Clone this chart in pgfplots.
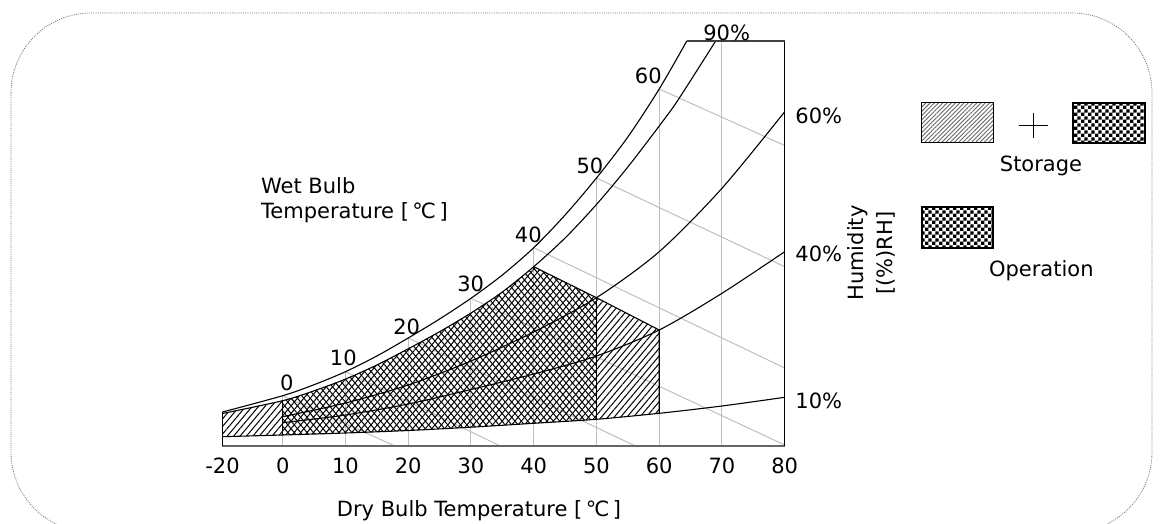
\documentclass[border=0pt]{standalone}
\usepackage{fontspec}
\setmainfont{DejaVu Sans}
\usepackage{pgfplots}
\pgfplotsset{compat=1.18}
\usetikzlibrary{patterns,patterns.meta}
\pgfdeclarepatternformonly{finechecker}{\pgfqpoint{0pt}{0pt}}{\pgfqpoint{3.4pt}{3.4pt}}{\pgfqpoint{3.4pt}{3.4pt}}{%
  \pgfpathrectangle{\pgfqpoint{0pt}{0pt}}{\pgfqpoint{1.7pt}{1.7pt}}%
  \pgfpathrectangle{\pgfqpoint{1.7pt}{1.7pt}}{\pgfqpoint{1.7pt}{1.7pt}}%
  \pgfusepath{fill}}
\pgfplotsset{
  grayline/.style={color=black!25, line width=0.5pt, forget plot},
  curve/.style={black, line width=0.55pt, smooth, forget plot},
  edge/.style={black, line width=0.55pt, forget plot},
}
\begin{document}
\begin{tikzpicture}[font=\fontsize{10.5}{12.6}\selectfont]
\begin{axis}[
  at={(0,0)}, anchor=south west,
  scale only axis, width=281.1pt, height=202.5pt,
  xmin=-9.6, xmax=80, ymin=0, ymax=405,
  axis line style={draw=none},
  xtick={-9.6,0,10,20,30,40,50,60,70,80},
  xticklabels={-20,0,10,20,30,40,50,60,70,80},
  ytick=\empty,
  major tick length=0pt,
  xticklabel style={anchor=base, yshift=-13.75pt, inner sep=0pt, font=\fontsize{10.5}{12.6}\selectfont},
  clip=false,
]
% grey dry-bulb verticals
\addplot[grayline] coordinates {(0,0) (0,50.3)};
\addplot[grayline] coordinates {(10,0) (10,74.3)};
\addplot[grayline] coordinates {(20,0) (20,108)};
\addplot[grayline] coordinates {(30,0) (30,147.7)};
\addplot[grayline] coordinates {(40,0) (40,198.3)};
\addplot[grayline] coordinates {(50,0) (50,268)};
\addplot[grayline] coordinates {(60,0) (60,357)};
\addplot[grayline] coordinates {(70,0) (70,405)};
% grey wet-bulb lines
\addplot[grayline] coordinates {(0,50.3) (17.9,0)};
\addplot[grayline] coordinates {(10,74.3) (34.7,0)};
\addplot[grayline] coordinates {(20,108) (56.2,0)};
\addplot[grayline] coordinates {(30,147.7) (80,1)};
\addplot[grayline] coordinates {(40,198.3) (80,78)};
\addplot[grayline] coordinates {(50,268) (80,179.3)};
\addplot[grayline] coordinates {(60,357) (80,300.5)};
% storage region (single hatch)
\addplot[draw=none, pattern={Lines[angle=50,distance=2.45pt,line width=0.5pt]}, forget plot] coordinates {
 (-9.6,9.3) (0,11) (5,12) (10,13) (15,14.2) (20,15.5) (25,17.1) (30,18.8) (35,20.7) (40,22.7) (45,24.6) (50,26.7) (55,29.5) (60,32.7)
 (60,116) (50,148.3) (40,179.3)
 (35,154) (30,133) (25,114.3) (20,97.2) (15,81) (10,66.9) (5,55.2) (0,45.3) (-9.6,32.5)
} -- cycle;
% operation region (adds the second hatch)
\addplot[draw=none, pattern={Lines[angle=-50,distance=2.45pt,line width=0.5pt]}, forget plot] coordinates {
 (0,11) (5,12) (10,13) (15,14.2) (20,15.5) (25,17.1) (30,18.8) (35,20.7) (40,22.7) (45,24.6) (50,26.7)
 (50,148.3) (40,179.3)
 (35,154) (30,133) (25,114.3) (20,97.2) (15,81) (10,66.9) (5,55.2) (0,45.3)
} -- cycle;
% relative humidity curves
\addplot[curve] coordinates {(-9.6,34) (0,50.3) (5,61.3) (10,74.3) (15,90) (20,108) (25,127) (30,147.7) (35,171) (40,198.3) (45,231) (50,268) (55,309) (60,357) (64.4,405)};
\addplot[curve] coordinates {(-9.6,32.5) (0,45.3) (5,55.2) (10,66.9) (15,81) (20,97.2) (25,114.3) (30,133) (35,154) (40,179.3) (45,208) (50,241.5) (55,279) (60,320) (63,346) (69,405)};
\addplot[curve] coordinates {(0,29.3) (10,43) (20,61) (30,85) (40,114) (50,148.3) (60,194.3) (70,257.7) (80,334.3)};
\addplot[curve] coordinates {(0,23.3) (10,31) (20,42) (30,56.5) (40,72) (50,90) (60,116) (70,152.7) (80,194.3)};
\addplot[curve] coordinates {(-9.6,9.3) (0,11) (10,13) (20,15.5) (30,18.8) (40,22.7) (50,26.7) (60,32.7) (70,40) (80,48.7)};
% region edges
\addplot[edge] coordinates {(0,11) (0,45.3)};
\addplot[edge] coordinates {(40,179.3) (50,148.3) (60,116) (60,32.7)};
\addplot[edge] coordinates {(50,148.3) (50,26.7)};
% chart frame lines
\addplot[black!60, line width=0.7pt, forget plot] coordinates {(-9.6,0) (80,0)};
\addplot[edge] coordinates {(-9.6,0) (-9.6,34)};
\addplot[edge] coordinates {(80,0) (80,405)};
\addplot[black!75, line width=0.6pt, forget plot] coordinates {(64.4,405) (80,405)};
\end{axis}
\begin{scope}[shift={(-111.25pt,223pt)}, x=0.5pt, y=-0.5pt]
  \draw[black!55, dash pattern=on 0.5pt off 0.6pt, line width=0.4pt, rounded corners=40pt] (11,13) rectangle (1152,532);
  % wet bulb labels
  \node[inner sep=0] at (286.7,383.3) {0};
  \node[inner sep=0] at (343.3,358.3) {10};
  \node[inner sep=0] at (406.7,327.3) {20};
  \node[inner sep=0] at (470.7,284) {30};
  \node[inner sep=0] at (528.3,235) {40};
  \node[inner sep=0] at (590,165.7) {50};
  \node[inner sep=0] at (648.3,76) {60};
  \node[inner sep=0] at (726.7,32.7) {90\%};
  \node[anchor=west, inner sep=0] at (795,115.7) {60\%};
  \node[anchor=west, inner sep=0] at (795,254) {40\%};
  \node[anchor=west, inner sep=0] at (795,401) {10\%};
  \node[anchor=base west, inner sep=0] at (260.7,193.3) {Wet Bulb};
  \node[anchor=base west, inner sep=0] at (260.7,218.8) {Temperature [\,℃\,]};
  \node[anchor=base, inner sep=0] at (479,516) {Dry Bulb Temperature [\,℃\,]};
  \node[rotate=90, align=center, inner sep=0, font=\fontsize{10.5}{14.25}\selectfont] at (871.5,253) {Humidity\\{[}(\%)RH]};
  % legend
  \draw[line width=0.5pt, pattern={Lines[angle=45,distance=1.5pt,line width=0.45pt]}, pattern color=black!60] (921.7,102.7) rectangle (993.3,142.7);
  \draw[line width=0.5pt] (1019,125.3) -- (1047.7,125.3) (1033.3,112.7) -- (1033.3,138.3);
  \draw[line width=1pt, pattern=finechecker] (1072.7,102.7) rectangle (1145,142.7);
  \node[anchor=base, inner sep=0] at (1041,172) {Storage};
  \draw[line width=1pt, pattern=finechecker] (921.7,206.7) rectangle (993.3,247.7);
  \node[anchor=base, inner sep=0] at (1041.3,277) {Operation};
  \pgfresetboundingbox
  \path[use as bounding box] (0,0) rectangle (1161,524);
\end{scope}
\end{tikzpicture}
\end{document}
